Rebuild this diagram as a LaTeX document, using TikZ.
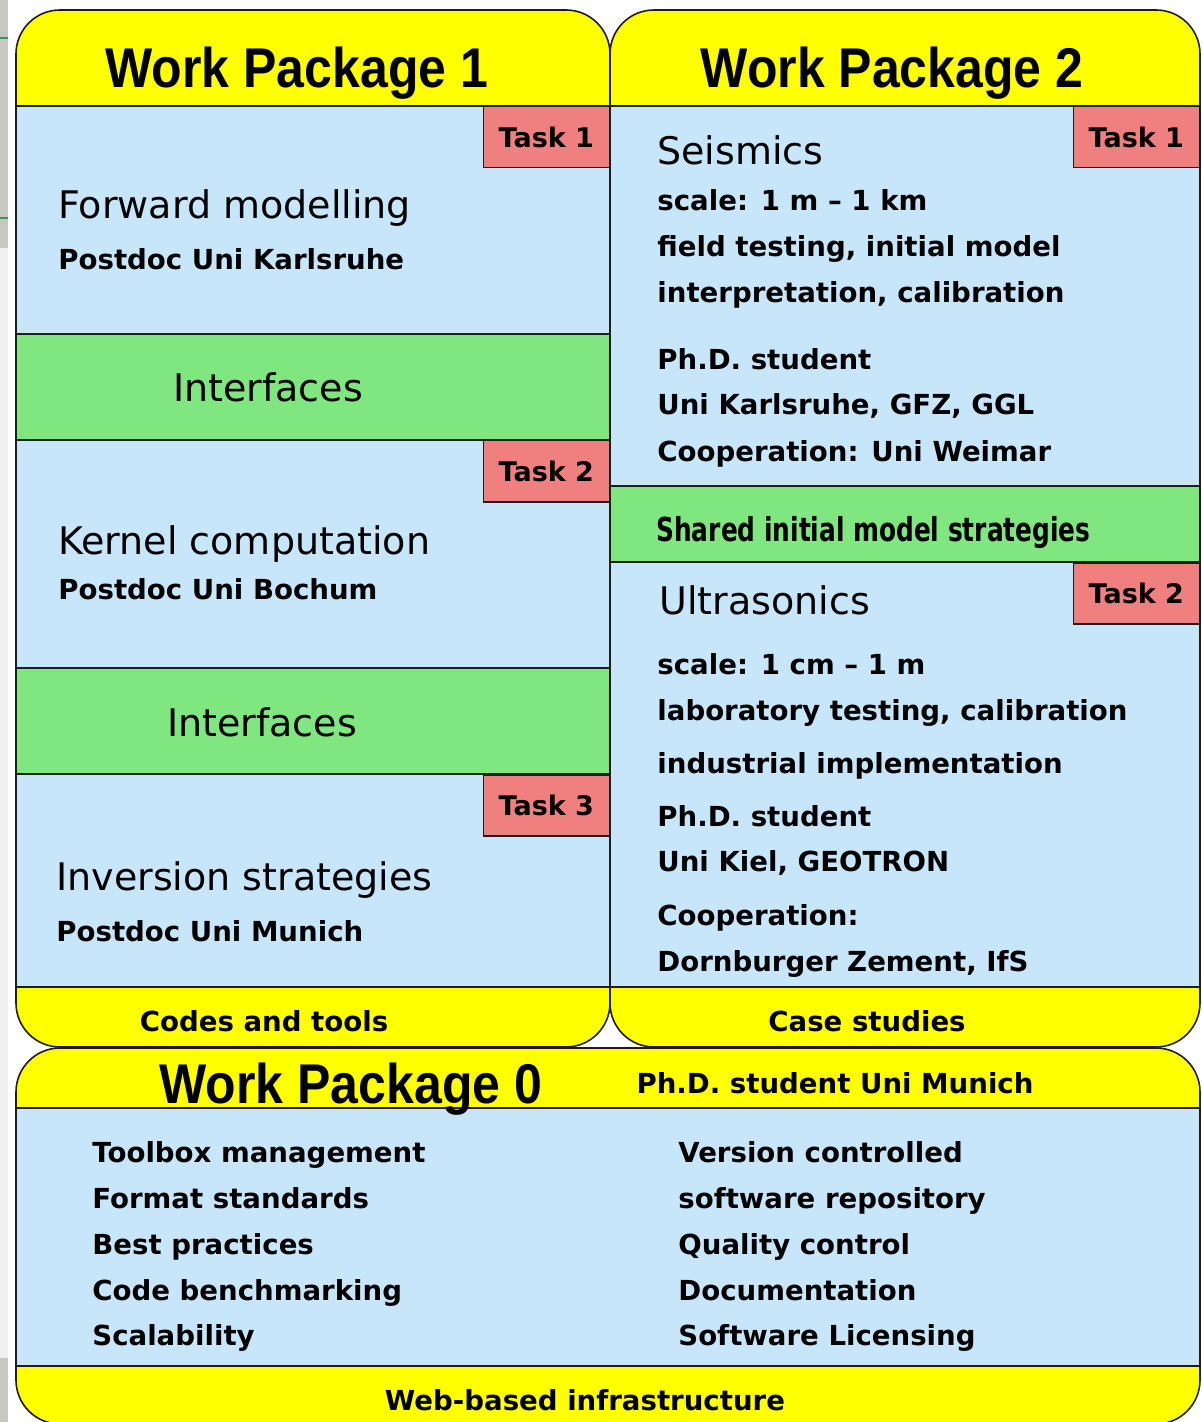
\documentclass[tikz,border=0pt]{standalone}
\usepackage{fontspec}
\setmainfont{DejaVu Sans}
\newfontfamily\headfont{Liberation Sans}
\definecolor{wpyellow}{RGB}{255,255,0}
\definecolor{wpblue}{RGB}{200,230,250}
\definecolor{wpgreen}{RGB}{128,230,128}
\definecolor{wpred}{RGB}{240,128,128}
\definecolor{wpline}{RGB}{30,30,30}
\definecolor{stripdark}{RGB}{200,200,195}
\definecolor{striplight}{RGB}{240,240,240}
\definecolor{stripgreen}{RGB}{60,150,90}

\begin{document}
\begin{tikzpicture}[x=0.5pt,y=-0.5pt,
  outline/.style={draw=wpline, line width=0.8pt},
  rule/.style={draw=wpline, line width=0.75pt},
  title/.style={font=\headfont\bfseries\fontsize{25}{30}\selectfont, inner sep=0, anchor=base},
  topic/.style={font=\fontsize{19}{23}\selectfont, inner sep=0, anchor=base west},
  info/.style={font=\bfseries\fontsize{13.8}{23}\selectfont, inner sep=0, anchor=base west},
  band/.style={font=\bfseries\fontsize{13.8}{23}\selectfont, inner sep=0, anchor=base},
  tasklabel/.style={draw=wpline, fill=wpred, line width=0.75pt,
    font=\bfseries\fontsize{13.5}{16}\selectfont,
    minimum width=63pt, minimum height=30.5pt, inner sep=0, anchor=north east}
]
\useasboundingbox (0,0) rectangle (1202,1422);
\clip (0,0) rectangle (1202,1422);

% window edge on the far left
\fill[stripdark] (0,0) rectangle (8,248);
\fill[striplight] (0,248) rectangle (8,1358);
\fill[stripdark] (0,1358) rectangle (8,1422);
\draw[stripgreen, line width=0.6pt] (0,38) -- (8,38);
\draw[stripgreen, line width=0.6pt] (0,218) -- (8,218);

% ---------- Work Package 1 ----------
\begin{scope}
  \path[clip, rounded corners=22pt] (16,10) rectangle (610,1047);
  \fill[wpblue] (16,10) rectangle (610,1047);
  \fill[wpyellow] (16,10) rectangle (610,106);
  \fill[wpgreen] (16,334) rectangle (610,440);
  \fill[wpgreen] (16,668) rectangle (610,774);
  \fill[wpyellow] (16,987) rectangle (610,1047);
  \foreach \yy in {106,334,440,668,774,987}
    \draw[rule] (16,\yy) -- (610,\yy);
\end{scope}
\draw[outline, rounded corners=22pt] (16,10) rectangle (610,1047);

% ---------- Work Package 2 ----------
\begin{scope}
  \path[clip, rounded corners=22pt] (610,10) rectangle (1200,1047);
  \fill[wpblue] (610,10) rectangle (1200,1047);
  \fill[wpyellow] (610,10) rectangle (1200,106);
  \fill[wpgreen] (610,486) rectangle (1200,562);
  \fill[wpyellow] (610,987) rectangle (1200,1047);
  \foreach \yy in {106,486,562,987}
    \draw[rule] (610,\yy) -- (1200,\yy);
\end{scope}
\draw[outline, rounded corners=22pt] (610,10) rectangle (1200,1047);

% ---------- Work Package 0 ----------
\begin{scope}
  \path[clip, rounded corners=22pt] (16,1048) rectangle (1200,1424);
  \fill[wpblue] (16,1048) rectangle (1200,1424);
  \fill[wpyellow] (16,1048) rectangle (1200,1108);
  \fill[wpyellow] (16,1366) rectangle (1200,1424);
  \foreach \yy in {1108,1366}
    \draw[rule] (16,\yy) -- (1200,\yy);
\end{scope}
\draw[outline, rounded corners=22pt] (16,1048) rectangle (1200,1424);

% ---------- task labels ----------
\node[tasklabel] (wp1t1) at (610,106) {Task 1};
\node[tasklabel] (wp1t2) at (610,440) {Task 2};
\node[tasklabel] (wp1t3) at (610,774) {Task 3};
\node[tasklabel] (wp2t1) at (1200,106) {Task 1};
\node[tasklabel] (wp2t2) at (1200,562) {Task 2};

% ---------- titles ----------
\node[title] (wp1title) at (297,88) {\scalebox{1}[1.12]{Work Package 1}};
\node[title] (wp2title) at (892,88) {\scalebox{1}[1.12]{Work Package 2}};
\node[title] (wp0title) at (351,1103) {\scalebox{1}[1.12]{Work Package 0}};
\node[band] (wp0who) at (835,1093) {Ph.D. student Uni Munich};

% ---------- Work Package 1 contents ----------
\node[topic] (fwd) at (58,219) {Forward modelling};
\node[info] (fwdwho) at (58,270) {Postdoc Uni Karlsruhe};
\node[topic, anchor=base] (if1) at (268,401) {Interfaces};
\node[topic] (kern) at (58,554) {Kernel computation};
\node[info] (kernwho) at (58,599) {Postdoc Uni Bochum};
\node[topic, anchor=base] (if2) at (262,736) {Interfaces};
\node[topic] (inv) at (56,890) {Inversion strategies};
\node[info] (invwho) at (56,941) {Postdoc Uni Munich};
\node[band] (codes) at (264,1031) {Codes and tools};

% ---------- Work Package 2 contents ----------
\node[topic] (seis) at (657,165) {Seismics};
\node[info] (seis1) at (657,211) {scale: 1 m – 1 km};
\node[info] (seis2) at (657,257) {field testing, initial model};
\node[info] (seis3) at (657,303) {interpretation, calibration};
\node[info] (seis4) at (657,370) {Ph.D. student};
\node[info] (seis5) at (657,415) {Uni Karlsruhe, GFZ, GGL};
\node[info] (seis6) at (657,461) {Cooperation: Uni Weimar};
\node[inner sep=0, anchor=base west,
      font=\bfseries\fontsize{16.5}{20}\selectfont] (shared) at (656,541)
      {\scalebox{0.753}[1]{Shared initial model strategies}};
\node[topic] (ultra) at (659,614) {Ultrasonics};
\node[info] (ultra1) at (657,674) {scale: 1 cm – 1 m};
\node[info] (ultra2) at (657,720) {laboratory testing, calibration};
\node[info] (ultra3) at (657,773) {industrial implementation};
\node[info] (ultra4) at (657,826) {Ph.D. student};
\node[info] (ultra5) at (657,871) {Uni Kiel, GEOTRON};
\node[info] (ultra6) at (657,925) {Cooperation:};
\node[info] (ultra7) at (657,971) {Dornburger Zement, IfS};
\node[band] (cases) at (867,1031) {Case studies};

% ---------- Work Package 0 contents ----------
\node[info] (l1) at (92,1162) {Toolbox management};
\node[info] (l2) at (92,1208) {Format standards};
\node[info] (l3) at (92,1254) {Best practices};
\node[info] (l4) at (92,1300) {Code benchmarking};
\node[info] (l5) at (92,1345) {Scalability};
\node[info] (r1) at (678,1162) {Version controlled};
\node[info] (r2) at (678,1208) {software repository};
\node[info] (r3) at (678,1254) {Quality control};
\node[info] (r4) at (678,1300) {Documentation};
\node[info] (r5) at (678,1345) {Software Licensing};
\node[band] (web) at (585,1410) {Web-based infrastructure};
\end{tikzpicture}
\end{document}
